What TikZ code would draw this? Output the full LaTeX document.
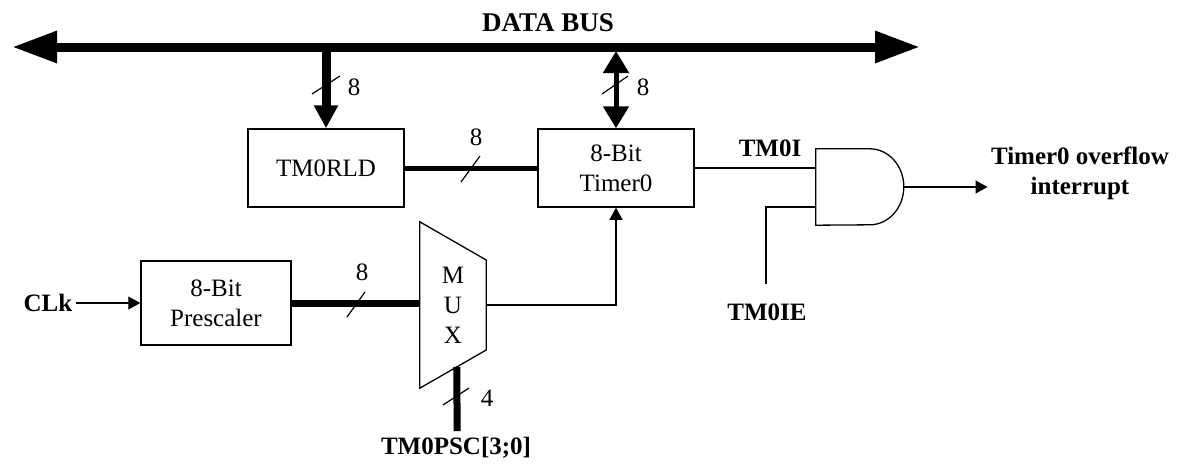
\documentclass[tikz,border=0pt]{standalone}
\usepackage{fontspec}
\setmainfont{Liberation Serif}
\usetikzlibrary{
    calc,
    positioning,
    arrows.meta
}

\begin{document}
\begin{tikzpicture}[x=1pt, y=-1pt, font=\fontsize{25}{30}\selectfont]
  \useasboundingbox (0,0) rectangle (1177,463);

  % Define the styles:
  \tikzset{
    block/.style={draw, line width=1.5pt, minimum width=156pt, minimum height=78pt, inner sep=0pt, align=center},
    wire/.style={line width=1.3pt},
    sig/.style={wire, -{Triangle[length=12pt, width=13pt]}},
    slash/.style={line width=1.2pt},
    lbl/.style={font=\fontsize{25}{30}\selectfont\bfseries, align=center},
    databus/.style={line width=9pt, {Triangle[length=45pt, width=30pt]}-{Triangle[length=45pt, width=30pt]}},
    busin/.style={line width=9pt, -{Triangle[length=23pt, width=23pt]}},
    busio/.style={line width=5pt, {Triangle[length=22pt, width=25pt]}-{Triangle[length=22pt, width=25pt]}},
    dbus/.style={line width=6pt}
  }

  % The data bus
  \node[lbl, font=\fontsize{27}{30}\selectfont\bfseries] (busname) at (548,23) {DATA BUS};
  \coordinate (busL) at (12,47);
  \coordinate (busR) at (920,47);
  \draw[databus] (busL) -- (busR);

  % Blocks
  \node[block] (rld) at (326,168) {TM0RLD};
  \node[block] (tmr) at (616,168) {8-Bit\\Timer0};
  \node[block, minimum width=150pt, minimum height=84pt] (psc) at (216,303) {8-Bit\\Prescaler};

  % The MUX (drawn as a trapezoid round an empty node)
  \node[minimum width=66pt, minimum height=166pt, inner sep=0pt, align=center] (mux) at (453,305) {M\\U\\X};
  \coordinate (muxtr) at ($(mux.east)+(0,-45)$);
  \coordinate (muxbr) at ($(mux.east)+(0,45)$);
  \draw[wire] (mux.north west) -- (muxtr) -- (muxbr) -- (mux.south west) -- cycle;
  \coordinate (muxsel) at ($(mux.south west)!0.56!(muxbr)$);

  % The AND gate
  \node[minimum width=88pt, minimum height=76pt, inner sep=0pt] (gate) at (860,187) {};
  \draw[wire] (gate.north west) -- ++(54,0)
    arc[start angle=-90, end angle=90, x radius=34, y radius=38]
    -- (gate.south west) -- cycle;

  % Bus connections with their widths
  \coordinate (tap1) at (326,47);
  \coordinate (tap2) at (616,51);
  \draw[busin] (tap1) -- (rld.north);
  \draw[busio] (tap2) -- (tmr.north);
  \draw[slash] (312,94) -- (340,76);
  \draw[slash] (602,94) -- (628,76);
  \node (w1) at (354,87) {8};
  \node (w2) at (643,87) {8};

  \draw[dbus, line width=5pt] (rld) -- (tmr);
  \draw[slash] (461,182) -- (480,156);
  \node (w3) at (476,137) {8};

  \draw[dbus, line width=7pt] (psc.east) -- (psc.east -| mux.west);
  \draw[slash] (347,317) -- (365,292);
  \node (w4) at (362,272) {8};

  % Select input of the MUX
  \coordinate (sel) at (457,431);
  \draw[dbus, line width=7pt] (sel) -- (muxsel);
  \draw[slash] (443,405) -- (469,388);
  \node (w5) at (487,398) {4};
  \node[lbl] (pscsel) at (456,448) {TM0PSC[3;0]};

  % Clock input
  \node[lbl] (clk) at (48,303) {CLk};
  \draw[sig] (clk) -- (psc);

  % MUX output to the timer
  \draw[sig] (mux.east) -| (tmr.south);

  % Gate inputs and output
  \draw[wire] (tmr.east) -- (tmr.east -| gate.west);
  \node[lbl] (tmi) at (770,148) {TM0I};
  \coordinate (iein) at (766,284);
  \draw[wire] (iein) |- ($(gate.west)+(0,20)$);
  \node[lbl] (tmie) at (767,312) {TM0IE};
  \node[lbl] (irq) at (1080,173) {Timer0 overflow\\interrupt};
  \draw[sig] (gate.east) -- (gate.east -| irq.west);
\end{tikzpicture}
\end{document}
